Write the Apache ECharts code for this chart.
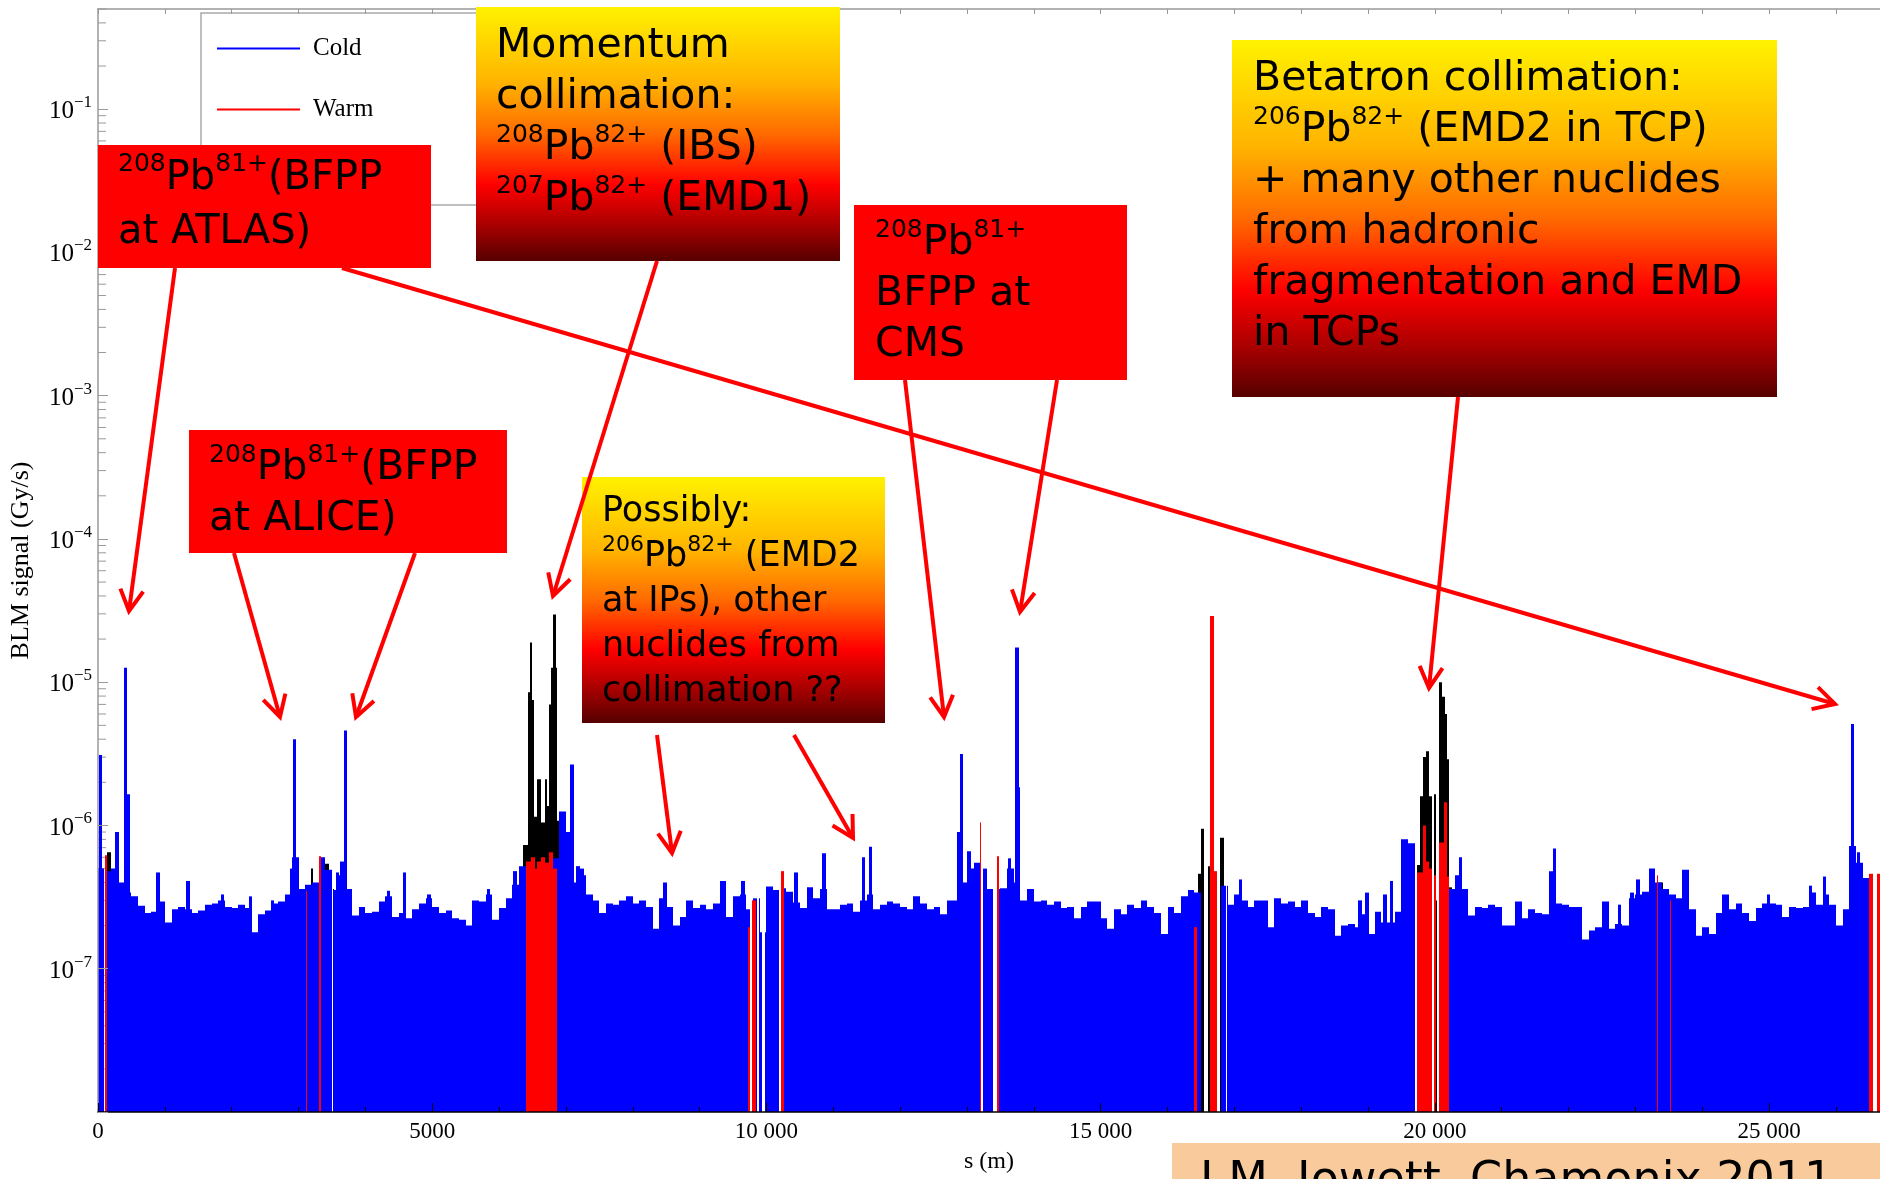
<!DOCTYPE html>
<html><head><meta charset="utf-8">
<script src="https://cdn.jsdelivr.net/npm/echarts@6/dist/echarts.min.js"></script>
<style>html,body{margin:0;padding:0;background:#fff}#c{width:1880px;height:1179px}</style>
</head><body><div id="c"></div>
<script>
// ---------------- DATA ----------------
// all signal values in units of 1e-7 Gy/s
const UNIT = 1e-7;
const S_MAX = 26659;        // ring length (m)
const Y_MIN = 1e-8, Y_MAX = 0.5;
const BIN_WIDTH = 100;      // m, cold BLM profile bins
const SPIKE_WIDTH = 50;     // m

// cold (blue) profile, one value per 100 m bin; null = no cold monitor there
const coldSignal = [
 5.0,4.8,5.0,4.0,3.4,3.2,2.75,2.45,2.5,2.95,
 2.1,2.6,2.7,2.6,2.45,2.55,2.8,2.85,3.0,2.7,
 2.65,2.8,2.65,1.8,2.4,2.55,2.85,2.95,3.3,6.0,
 3.6,3.85,4.0,6.0,4.9,3.55,4.5,3.6,2.35,2.7,
 2.45,2.5,2.95,3.2,2.3,2.45,2.25,2.6,2.85,3.1,
 2.7,2.45,2.55,2.25,2.2,2.0,3.0,2.95,3.3,2.2,
 2.65,3.1,3.85,5.2,null,null,null,null,5.9,12.5,
 9.0,4.0,4.5,3.3,3.0,2.45,2.85,2.8,3.0,3.2,
 2.85,3.0,2.7,1.9,3.1,2.7,2.0,2.3,3.0,2.65,
 2.8,2.6,2.85,4.1,2.3,3.2,3.3,2.6,3.1,1.8,
 3.75,3.55,3.65,3.45,2.9,2.65,3.7,3.1,3.6,2.6,
 2.6,2.8,2.85,2.5,3.0,3.3,2.6,2.8,2.95,2.85,
 2.7,2.6,3.2,2.85,2.6,2.7,2.4,3.0,3.0,4.0,
 5.0,5.5,5.0,3.6,3.6,3.65,5.0,4.0,3.0,3.6,
 2.95,3.0,2.8,2.95,2.65,2.7,2.25,2.7,2.95,2.95,
 2.25,1.9,2.6,2.4,2.8,2.65,3.0,2.7,2.45,1.75,
 2.7,2.45,3.2,3.55,3.4,null,null,null,3.8,2.8,
 3.3,3.0,2.7,3.0,3.0,1.95,3.1,2.85,2.95,2.7,
 3.0,2.45,2.3,2.7,2.6,1.7,2.0,2.05,1.95,2.4,
 1.75,2.5,2.1,2.1,2.5,8.0,7.5,null,null,null,
 null,null,3.6,4.5,3.6,2.35,2.7,2.65,2.8,2.7,
 2.0,2.0,2.95,2.25,2.6,2.45,2.4,4.8,2.85,2.8,
 2.7,2.7,1.6,1.85,1.95,2.95,1.9,2.05,2.0,3.1,
 3.3,3.45,5.0,4.0,3.6,3.3,3.1,4.9,2.6,1.7,
 1.95,1.75,2.45,3.3,2.6,2.85,2.45,2.15,2.65,2.85,
 2.85,2.8,2.3,2.7,2.65,2.7,3.4,2.8,3.3,2.8,
 2.0,2.6,7.2,5.5,4.3,null,null
];

// narrow cold monitors standing out of the profile: [s (m), value]
const coldSpikes = [
 [40,31],[285,9.0],[415,126],[450,16.5],[900,4.7],[1345,4.1],[1860,3.3],[2280,3.2],
 [2610,3.0],[2890,5.0],[2935,40],[3580,4.7],[3650,5.6],[3700,46],[4350,3.5],[4590,4.7],
 [4950,3.3],[5840,3.6],[6240,4.8],[7090,26.6],[7180,5.2],[7240,5.0],[8480,4.0],[9650,4.1],
 [10440,4.7],[10860,6.4],[11450,6.0],[11555,7.1],[12875,9.0],[12915,31.6],[13030,6.6],
 [13640,5.9],[13750,175],[13775,18.5],[17090,4.2],[18880,3.0],[18985,3.4],[19255,3.3],
 [19355,4.1],[20385,6.0],[21790,6.9],[22760,2.8],[22950,3.4],[23040,4.2],[24990,3.3],
 [25620,3.8],[25830,4.4],[26250,51],[26340,6.5]
];

// stretches without a cold monitor: [s0, s1]
const coldGaps = [
 [95,110],[3500,3515],[9760,9790],[9860,9890],[9940,9975],[10190,10220],[13215,13240],
 [13395,13445],[16540,16610],[16870,16895],[19955,19980],[20035,20060],[26560,26605]
];

// warm (red) monitors: [s0, s1, value]
const warmBins = [
 [110,140,6.2],[3110,3125,3.5],[3300,3330,6.1],
 [6400,6480,5.6],[6480,6540,6.0],[6540,6570,5.0],[6570,6620,5.6],[6620,6680,6.0],
 [6680,6750,5.5],[6750,6810,6.5],[6810,6870,5.0],
 [9730,9760,1.95],[9790,9840,3.0],[10225,10270,4.8],
 [13190,13215,10.5],[13445,13485,6.1],
 [16400,16440,1.95],[16640,16690,290],[16690,16740,4.8],
 [19725,19775,4.7],[19775,19820,4.7],[19820,19860,10],[19860,19905,5.6],[19905,19955,5.0],
 [19980,20020,4.5],[20060,20100,7.6],[20100,20140,7.6],[20140,20175,14.5],[20175,20210,4.4],
 [23320,23345,4.5],[23520,23530,3.0],
 [26500,26560,4.6],[26610,26659,4.6]
];

// other monitors (black): [s0, s1, value]
const otherBins = [
 [140,200,6.5],[3180,3210,5.0],[3380,3450,5.4],[3520,3528,3.6],
 [6360,6440,7.3],[6440,6470,85],[6470,6500,189],[6500,6530,75],[6530,6570,11.5],
 [6570,6620,21],[6620,6680,10.5],[6680,6720,21],[6720,6750,13.7],[6750,6780,70],
 [6780,6810,126],[6810,6845,297],[6845,6865,126],[6865,6930,10.8],
 [13130,13150,4.3],
 [16450,16500,4.6],[16500,16540,9.5],[16610,16640,5.2],[16790,16850,8.2],
 [19725,19775,5.3],[19775,19820,16],[19820,19860,30],[19860,19905,33],[19905,19955,16],
 [19980,20020,16.5],[20020,20035,3.0],[20060,20100,100],[20100,20150,79],[20150,20180,60],
 [20180,20210,29],[20210,20250,3.7],
 [23235,23245,3.0],[23345,23420,4.0]
];

const xTickLabels = {0:'0',5000:'5000',10000:'10 000',15000:'15 000',20000:'20 000',25000:'25 000'};

// ---------------- BUILD ----------------
function subtractGaps(s0, s1, gaps) {
  let parts = [[s0, s1]];
  gaps.forEach(([g0, g1]) => {
    parts = parts.flatMap(([a, b]) => {
      if (g1 <= a || g0 >= b) return [[a, b]];
      const out = [];
      if (g0 > a) out.push([a, g0]);
      if (g1 < b) out.push([g1, b]);
      return out;
    });
  });
  return parts;
}
const coldData = [];
coldSignal.forEach((v, i) => {
  if (v == null) return;
  const s0 = i * BIN_WIDTH, s1 = Math.min((i + 1) * BIN_WIDTH, S_MAX);
  subtractGaps(s0, s1, coldGaps).forEach(([a, b]) => coldData.push([a, b, v * UNIT]));
});
coldSpikes.forEach(([s, v]) => coldData.push([s - SPIKE_WIDTH / 2, s + SPIKE_WIDTH / 2, v * UNIT]));
const warmData = warmBins.map(([a, b, v]) => [a, b, v * UNIT]);
const otherData = otherBins.map(([a, b, v]) => [a, b, v * UNIT]);

function barItem(params, api) {
  const top = api.coord([api.value(0), api.value(2)]);
  const bot = api.coord([api.value(1), Y_MIN]);
  const x0 = Math.round(top[0]);
  const x1 = Math.max(Math.round(bot[0]), x0 + 1);
  return { type: 'rect', shape: { x: x0, y: top[1], width: x1 - x0, height: bot[1] - top[1] },
           style: { fill: api.visual('color') } };
}

// minor log ticks (2..9 x 10^n)
const minorTickValues = [];
for (let e = -8; e <= -1; e++) for (let k = 2; k <= 9; k++) {
  const v = k * Math.pow(10, e); if (v <= Y_MAX) minorTickValues.push([0, v]);
}
function minorTickItem(params, api) {
  const p = api.coord([api.value(0), api.value(1)]);
  return { type: 'line', shape: { x1: p[0], y1: p[1], x2: p[0] + 8, y2: p[1] },
           style: { stroke: '#999', lineWidth: 1 } };
}

// ---------------- ANNOTATIONS ----------------
const RED = '#ff0000';
const grad = () => ({ type: 'linear', x: 0, y: 0, x2: 0, y2: 1, colorStops: [
  { offset: 0, color: '#fff200' }, { offset: 0.3, color: '#ffb300' }, { offset: 0.5, color: '#ff6a00' },
  { offset: 0.7, color: '#ff0000' }, { offset: 0.86, color: '#a80000' }, { offset: 1, color: '#560000' }] });
const FONT = 'DejaVu Sans';
const richBig = { t: { fontFamily: FONT, fontSize: 41, lineHeight: 51, fill: '#000' },
                  p: { fontFamily: FONT, fontSize: 25, lineHeight: 38, verticalAlign: 'top', fill: '#000' } };
const richAtlas = { t: { fontFamily: FONT, fontSize: 40, lineHeight: 54, fill: '#000' },
                    p: { fontFamily: FONT, fontSize: 25, lineHeight: 40, verticalAlign: 'top', fill: '#000' } };
const richSmall = { t: { fontFamily: FONT, fontSize: 35, lineHeight: 45, fill: '#000' },
                    p: { fontFamily: FONT, fontSize: 22, lineHeight: 35, verticalAlign: 'top', fill: '#000' } };

function box(x, y, w, h, fill) {
  return { type: 'rect', shape: { x, y, width: w, height: h }, style: { fill }, z: 20 };
}
function label(x, y, text, rich) {
  return { type: 'text', x, y, style: { text, rich, align: 'left', verticalAlign: 'top' }, z: 21 };
}
function arrow(x1, y1, x2, y2) {
  const ang = Math.atan2(y2 - y1, x2 - x1), L = 24, A = 0.5;
  const w1 = [x2 - L * Math.cos(ang - A), y2 - L * Math.sin(ang - A)];
  const w2 = [x2 - L * Math.cos(ang + A), y2 - L * Math.sin(ang + A)];
  return [
    { type: 'line', shape: { x1, y1, x2, y2 }, style: { stroke: RED, lineWidth: 4 }, z: 25 },
    { type: 'polyline', shape: { points: [w1, [x2, y2], w2] }, style: { stroke: RED, lineWidth: 4, fill: null }, z: 25 }
  ];
}

const graphics = [
  // legend frame
  { type: 'rect', shape: { x: 201, y: 13, width: 330, height: 192 }, style: { fill: '#fff', stroke: '#aaa', lineWidth: 1.5 }, z: 3 },
  box(98, 145, 333, 123, RED),
  label(118, 152, '{p|208}{t|Pb}{p|81+}{t|(BFPP}\n{t|at ATLAS)}', richAtlas),
  box(189, 430, 318, 123, RED),
  label(209, 443, '{p|208}{t|Pb}{p|81+}{t|(BFPP}\n{t|at ALICE)}', richBig),
  box(476, 7, 364, 254, grad()),
  label(496, 21, '{t|Momentum}\n{t|collimation:}\n{p|208}{t|Pb}{p|82+}{t| (IBS)}\n{p|207}{t|Pb}{p|82+}{t| (EMD1)}', richBig),
  box(854, 205, 273, 175, RED),
  label(875, 218, '{p|208}{t|Pb}{p|81+}\n{t|BFPP at}\n{t|CMS}', richBig),
  box(1232, 40, 545, 357, grad()),
  label(1253, 54, '{t|Betatron collimation:}\n{p|206}{t|Pb}{p|82+}{t| (EMD2 in TCP)}\n{t|+ many other nuclides}\n{t|from hadronic}\n{t|fragmentation and EMD}\n{t|in TCPs}', richBig),
  box(582, 477, 303, 246, grad()),
  label(602, 489, '{t|Possibly:}\n{p|206}{t|Pb}{p|82+}{t| (EMD2}\n{t|at IPs), other}\n{t|nuclides from}\n{t|collimation ??}', richSmall),
  { type: 'rect', shape: { x: 1172, y: 1143, width: 720, height: 60 }, style: { fill: '#f9cb9c' }, z: 20 },
  { type: 'text', x: 1200, y: 1159, style: { text: 'J.M. Jowett, Chamonix 2011', fontFamily: FONT, fontSize: 46, fill: '#000', align: 'left', verticalAlign: 'top' }, z: 21 },
  ...arrow(175, 268, 129, 611),
  ...arrow(342, 268, 1835, 704),
  ...arrow(234, 553, 280, 717),
  ...arrow(415, 553, 356, 717),
  ...arrow(657, 261, 553, 596),
  ...arrow(657, 735, 672, 853),
  ...arrow(794, 735, 853, 838),
  ...arrow(905, 380, 944, 717),
  ...arrow(1057, 380, 1020, 612),
  ...arrow(1458, 397, 1429, 688)
];

// ---------------- CHART ----------------
const SERIF = 'Liberation Serif';
const chart = echarts.init(document.getElementById('c'), null, { renderer: 'canvas' });
chart.setOption({
  animation: false,
  backgroundColor: '#fff',
  grid: { left: 97, right: 0, top: 9, bottom: 64, containLabel: false },
  legend: {
    data: [{ name: 'Cold', icon: 'rect' }, { name: 'Warm', icon: 'rect' }],
    orient: 'vertical', left: 212, top: 31, itemWidth: 83, itemHeight: 2, itemGap: 36,
    selectedMode: false, z: 5,
    textStyle: { fontFamily: SERIF, fontSize: 25, color: '#000', padding: [0, 0, 0, 8] }
  },
  xAxis: [{
    type: 'value', min: 0, max: S_MAX, interval: 5000, position: 'bottom', z: 10,
    name: 's (m)', nameLocation: 'middle', nameGap: 38,
    nameTextStyle: { fontFamily: SERIF, fontSize: 24, color: '#000' },
    axisLine: { show: true, lineStyle: { color: '#000', width: 1.5 } },
    axisTick: { show: true, inside: true, length: 9, lineStyle: { color: '#000' } },
    minorTick: { show: true, splitNumber: 5, length: 5, lineStyle: { color: '#000' } },
    splitLine: { show: false },
    axisLabel: { margin: 8, fontFamily: SERIF, fontSize: 23, color: '#000', showMaxLabel: false,
      formatter: v => (xTickLabels[v] !== undefined ? xTickLabels[v] : '') }
  }, {
    type: 'value', min: 0, max: S_MAX, interval: 1000, position: 'top', z: 10,
    axisLine: { show: true, lineStyle: { color: '#999', width: 1.5 } },
    axisTick: { show: true, inside: true, length: 5, lineStyle: { color: '#999' } },
    axisLabel: { show: false }, splitLine: { show: false }
  }],
  yAxis: {
    type: 'log', logBase: 10, min: Y_MIN, max: Y_MAX, z: 10,
    name: 'BLM signal (Gy/s)', nameLocation: 'middle', nameGap: 64, nameRotate: 90,
    nameTextStyle: { fontFamily: SERIF, fontSize: 26, color: '#000' },
    axisLine: { show: true, lineStyle: { color: '#999', width: 1.5 } },
    axisTick: { show: true, inside: true, length: 10, lineStyle: { color: '#999' } },
    splitLine: { show: false },
    axisLabel: {
      margin: 6, showMaxLabel: false,
      formatter: v => {
        const l = Math.log10(v), e = Math.round(l);
        if (Math.abs(l - e) > 1e-6 || e < -7 || e > -1) return '';
        return '{b|10}{s|\u2212' + (-e) + '}';
      },
      rich: {
        b: { fontFamily: SERIF, fontSize: 25, lineHeight: 30, verticalAlign: 'bottom', color: '#000' },
        s: { fontFamily: SERIF, fontSize: 17, lineHeight: 22, verticalAlign: 'top', color: '#000' }
      }
    }
  },
  series: [
    { type: 'custom', name: 'minor', silent: true, z: 1, renderItem: minorTickItem,
      encode: { x: 0, y: 1 }, data: minorTickValues, clip: false },
    { type: 'custom', name: 'Other', silent: true, renderItem: barItem, itemStyle: { color: '#000000' },
      encode: { x: [0, 1], y: 2 }, data: otherData, clip: true },
    { type: 'custom', name: 'Cold', silent: true, renderItem: barItem, itemStyle: { color: '#0000ff' },
      encode: { x: [0, 1], y: 2 }, data: coldData, clip: true },
    { type: 'custom', name: 'Warm', silent: true, renderItem: barItem, itemStyle: { color: '#ff0000' },
      encode: { x: [0, 1], y: 2 }, data: warmData, clip: true }
  ],
  graphic: { elements: graphics }
});
</script></body></html>
